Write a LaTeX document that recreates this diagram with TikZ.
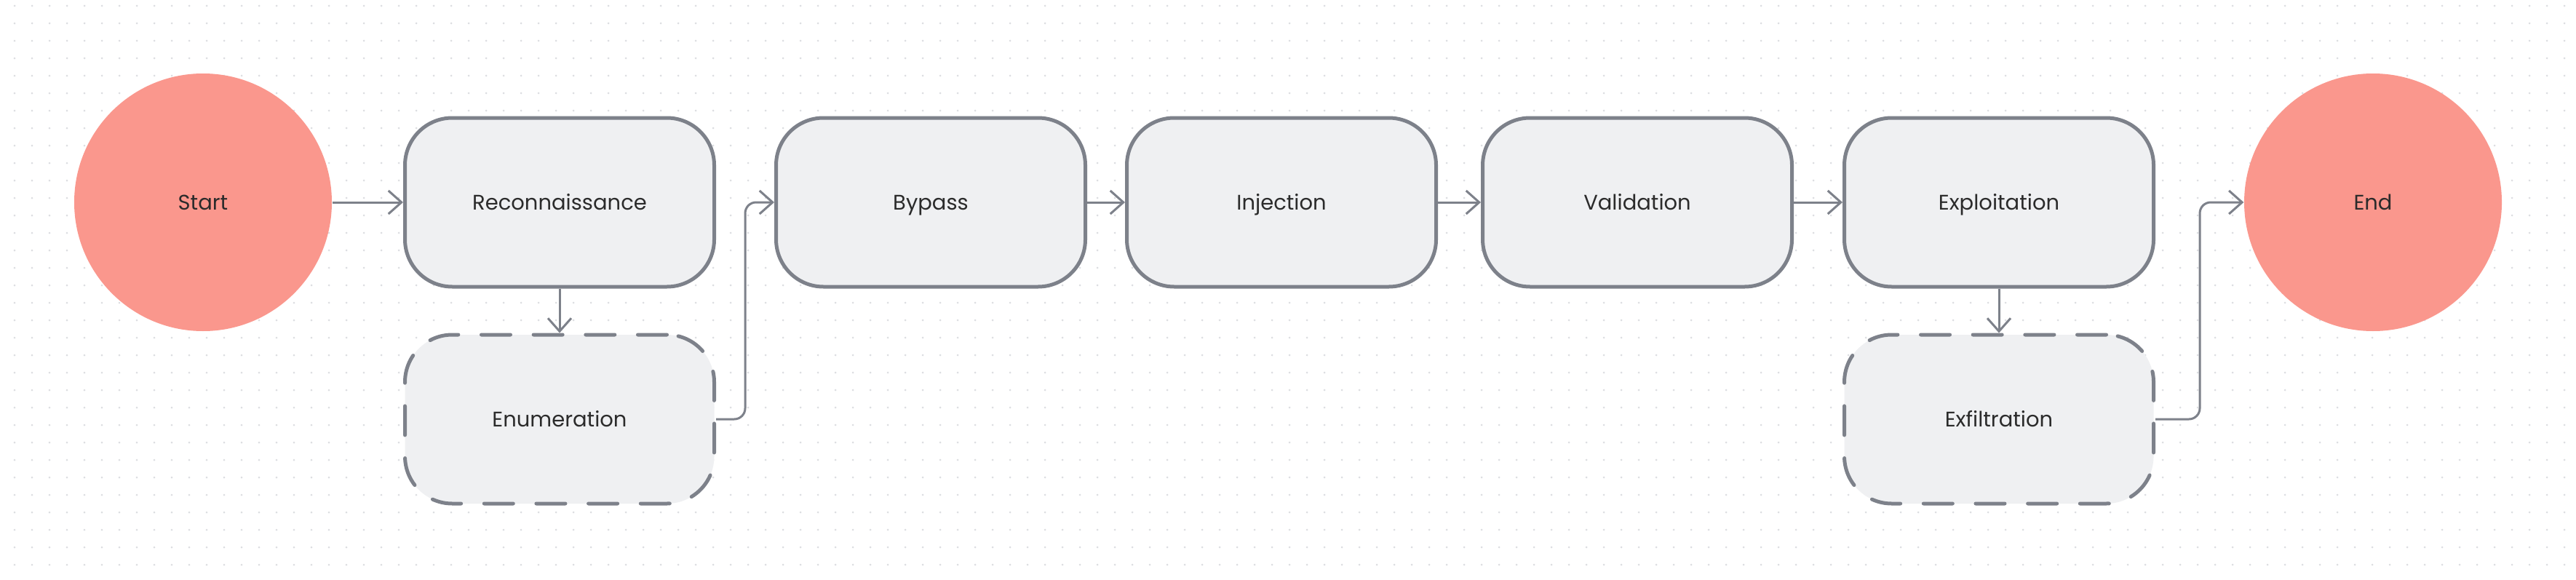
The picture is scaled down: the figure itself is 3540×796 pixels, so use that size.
\documentclass[tikz,border=0pt]{standalone}
\usepackage{fontspec}
\setmainfont{Poppins}
\usetikzlibrary{arrows.meta}
\definecolor{salmon}{HTML}{FA978D}
\definecolor{boxfill}{HTML}{EFF0F2}
\definecolor{edgec}{HTML}{7D818A}
\definecolor{txtc}{HTML}{2B2B2B}
\definecolor{dotc}{HTML}{DCDDE1}
\begin{document}
\begin{tikzpicture}[x=0.3pt,y=-0.3pt,
  every node/.style={font=\fontsize{8.7}{10.5}\selectfont, text=txtc, text height=6.1pt, text depth=0pt},
  term/.style={circle, fill=salmon, minimum size=106.2pt, inner sep=0pt},
  proc/.style={rectangle, rounded corners=19.5pt, draw=edgec, line width=1.5pt, fill=boxfill, minimum width=127.5pt, minimum height=69.6pt, inner sep=0pt},
  optbox/.style={proc, dash pattern=on 12pt off 9.5pt, line cap=round},
  link/.style={draw=edgec, line width=0.9pt, -{Straight Barb[length=5.4pt,width=9.6pt]}, rounded corners=4.5pt}]
\fill[white] (0,0) rectangle (3540,796);
\useasboundingbox (0,0) rectangle (3540,796);
\foreach \i in {0,...,146} {
  \foreach \j in {0,...,32} {
    \fill[dotc] (20+24*\i, 8+24*\j) circle (0.45pt);
  }
}
\node[term] (start) at (279,278) {Start};
\node[proc] (recon) at (769,278) {Reconnaissance};
\node[optbox] (enum) at (769,576) {Enumeration};
\node[proc] (bypass) at (1279,278) {Bypass};
\node[proc] (inject) at (1761,278) {Injection};
\node[proc] (valid) at (2250,278) {Validation};
\node[proc] (exploit) at (2747,278) {Exploitation};
\node[optbox] (exfil) at (2747,576) {Exfiltration};
\node[term] (end) at (3261,278) {End};
\coordinate (e1) at (1024,576);
\coordinate (e2) at (1024,278);
\coordinate (x1) at (3023,576);
\coordinate (x2) at (3023,278);
\draw[link] (start) -- (recon);
\draw[link] (recon) -- (enum);
\draw[link] (enum.east) -- (e1) -- (e2) -- (bypass.west);
\draw[link] (bypass) -- (inject);
\draw[link] (inject) -- (valid);
\draw[link] (valid) -- (exploit);
\draw[link] (exploit) -- (exfil);
\draw[link] (exfil.east) -- (x1) -- (x2) -- (end.west);
\end{tikzpicture}
\end{document}
